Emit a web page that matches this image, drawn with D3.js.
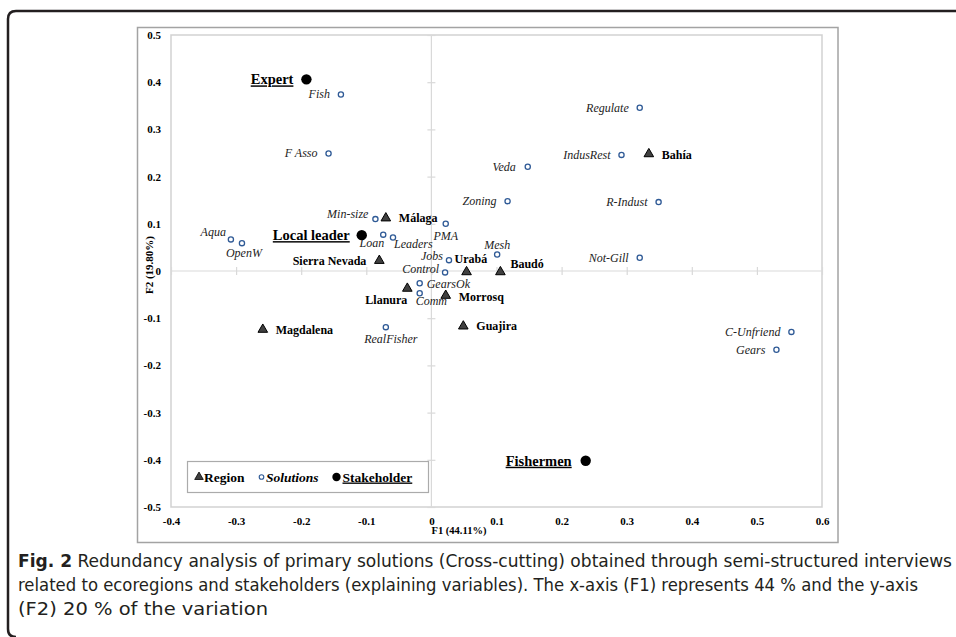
<!DOCTYPE html>
<html>
<head>
<meta charset="utf-8">
<script src="https://cdn.jsdelivr.net/npm/d3@7"></script>
<style>
  html, body { margin: 0; padding: 0; background: #fff; }
  svg { display: block; }
  svg text.serif { font-family: "Liberation Serif", "Times New Roman", "DejaVu Serif", serif; }
  .caption { font-family: "Liberation Sans Narrow", "DejaVu Sans Condensed", "Open Sans", sans-serif; font-stretch: condensed; fill: #231f20; }
</style>
</head>
<body>
<svg id="chart" width="956" height="637"></svg>
<script>
// Ecoregions (triangles): [name, F1, F2]
const regions = [
  ["Málaga", -0.070, 0.112],
  ["Sierra Nevada", -0.080, 0.022],
  ["Urabá", 0.054, -0.002],
  ["Baudó", 0.106, -0.002],
  ["Llanura", -0.037, -0.037],
  ["Morrosq", 0.022, -0.052],
  ["Magdalena", -0.259, -0.124],
  ["Guajira", 0.049, -0.117],
  ["Bahía", 0.334, 0.248]
];

// Primary solutions (open circles): [name, F1, F2]
const solutions = [
  ["Fish", -0.139, 0.374],
  ["F Asso", -0.158, 0.249],
  ["Regulate", 0.320, 0.346],
  ["IndusRest", 0.292, 0.246],
  ["Veda", 0.148, 0.221],
  ["Zoning", 0.117, 0.148],
  ["R-Indust", 0.349, 0.146],
  ["Min-size", -0.086, 0.110],
  ["PMA", 0.022, 0.100],
  ["Aqua", -0.308, 0.067],
  ["OpenW", -0.291, 0.059],
  ["Loan", -0.074, 0.077],
  ["Leaders", -0.059, 0.071],
  ["Jobs", 0.027, 0.023],
  ["Mesh", 0.101, 0.035],
  ["Not-Gill", 0.320, 0.028],
  ["Control", 0.021, -0.003],
  ["GearsOk", -0.018, -0.026],
  ["Comm", -0.018, -0.047],
  ["RealFisher", -0.070, -0.119],
  ["C-Unfriend", 0.553, -0.129],
  ["Gears", 0.530, -0.167]
];

// Stakeholders (filled circles): [name, F1, F2]
const stakeholders = [
  ["Expert", -0.192, 0.406],
  ["Local leader", -0.107, 0.076],
  ["Fishermen", 0.237, -0.402]
];

const xTicks = [-0.4, -0.3, -0.2, -0.1, 0, 0.1, 0.2, 0.3, 0.4, 0.5, 0.6];
const yTicks = [-0.5, -0.4, -0.3, -0.2, -0.1, 0, 0.1, 0.2, 0.3, 0.4, 0.5];
const xTitle = "F1 (44.11%)";
const yTitle = "F2 (19.80%)";
const legendItems = ["Region", "Solutions", "Stakeholder"];
const captionLines = [
  ["Fig. 2", " Redundancy analysis of primary solutions (Cross-cutting) obtained through semi-structured interviews"],
  ["", "related to ecoregions and stakeholders (explaining variables). The x-axis (F1) represents 44 % and the y-axis"],
  ["", "(F2) 20 % of the variation"]
];

// Label placement relative to each marker: [dx, dy(baseline), anchor]
const labelPlacement = {
  "Málaga": [13, 4, "start"], "Sierra Nevada": [-13, 4, "end"], "Urabá": [-12, -9, "start"],
  "Baudó": [10, -4, "start"], "Llanura": [0, 16, "end"], "Morrosq": [13, 5, "start"],
  "Magdalena": [13, 4, "start"], "Guajira": [13, 4, "start"], "Bahía": [13, 5, "start"],
  "Fish": [-11, 4, "end"], "F Asso": [-11, 4, "end"], "Regulate": [-11, 4, "end"],
  "IndusRest": [-11, 4, "end"], "Veda": [-12, 4, "end"], "Zoning": [-11, 4, "end"],
  "R-Indust": [-11, 4, "end"], "Min-size": [-7, -1, "end"], "PMA": [0, 16, "middle"],
  "Aqua": [-5, -3, "end"], "OpenW": [2, 14, "middle"], "Loan": [1, 12, "end"],
  "Leaders": [1, 11, "start"], "Jobs": [-6, 0, "end"], "Control": [-6, 1, "end"],
  "GearsOk": [7, 5, "start"], "Comm": [-4, 12, "start"], "Mesh": [0, -5, "middle"],
  "Not-Gill": [-11, 4, "end"], "RealFisher": [5, 16, "middle"], "C-Unfriend": [-11, 4, "end"],
  "Gears": [-11, 4, "end"],
  "Expert": [-13, 5, "end"], "Local leader": [-12, 5, "end"], "Fishermen": [-14, 5, "end"]
};

const svg = d3.select("#chart");
const plot = { left: 171, top: 35, right: 822, bottom: 507 };

const x = d3.scaleLinear().domain([-0.4, 0.6]).range([plot.left, plot.right]);
const y = d3.scaleLinear().domain([-0.5, 0.5]).range([plot.bottom, plot.top]);
const fmt = d => d === 0 ? "0" : d3.format(".1f")(d).replace("−", "-");

// Outer page frame (rounded on the left)
svg.append("path")
  .attr("d", "M 970 11 L 16 11 Q 8 11 8 19 L 8 629 Q 8 637 16 637")
  .attr("fill", "none").attr("stroke", "#231f20").attr("stroke-width", 2.5);

// Chart frame and plot area
svg.append("rect").attr("x", 137.5).attr("y", 27.5).attr("width", 700.5).attr("height", 515)
  .attr("fill", "#fff").attr("stroke", "#a3a3a3").attr("stroke-width", 1.5);
svg.append("rect").attr("x", plot.left).attr("y", plot.top)
  .attr("width", plot.right - plot.left).attr("height", plot.bottom - plot.top)
  .attr("fill", "#fff").attr("stroke", "#d2d2d2").attr("stroke-width", 1.5);

// Zero lines with cross ticks
const grid = "#d9d9d9";
svg.append("line").attr("x1", plot.left).attr("x2", plot.right).attr("y1", y(0)).attr("y2", y(0))
  .attr("stroke", grid).attr("stroke-width", 1.2);
svg.append("line").attr("x1", x(0)).attr("x2", x(0)).attr("y1", plot.top).attr("y2", plot.bottom)
  .attr("stroke", grid).attr("stroke-width", 1.2);

const xTickAxis = svg.append("g").attr("transform", `translate(0,${y(0) - 4})`)
  .call(d3.axisBottom(x).tickValues(xTicks).tickSize(8).tickFormat(""));
const yTickAxis = svg.append("g").attr("transform", `translate(${x(0) - 4},0)`)
  .call(d3.axisRight(y).tickValues(yTicks).tickSize(8).tickFormat(""));
[xTickAxis, yTickAxis].forEach(g => {
  g.select(".domain").remove();
  g.selectAll("line").attr("stroke", grid).attr("stroke-width", 1.2);
});

// Tick labels
const xLab = svg.append("g").attr("transform", `translate(0,${plot.bottom})`)
  .call(d3.axisBottom(x).tickValues(xTicks).tickSize(0).tickPadding(10).tickFormat(fmt));
const yLab = svg.append("g").attr("transform", `translate(${plot.left},0)`)
  .call(d3.axisLeft(y).tickValues(yTicks).tickSize(0).tickPadding(10).tickFormat(fmt));
[xLab, yLab].forEach(g => {
  g.attr("font-family", null);
  g.select(".domain").remove();
  g.selectAll("text").attr("class", "serif").attr("font-size", 11).attr("font-weight", "bold")
    .attr("fill", "#000");
});

// Axis titles
svg.append("text").attr("class", "serif").attr("x", 459).attr("y", 534)
  .attr("text-anchor", "middle").attr("font-size", 10.5).attr("font-weight", "bold").text(xTitle);
svg.append("text").attr("class", "serif").attr("transform", "translate(153,265) rotate(-90)")
  .attr("text-anchor", "middle").attr("font-size", 11).attr("font-weight", "bold").text(yTitle);

// Marker helpers
const triangle = d3.symbol().type(d3.symbolTriangle).size(40);
const solStroke = "#2f5a96";

function addLabel(name, px, py, cls) {
  const p = labelPlacement[name] || [8, 4, "start"];
  const t = svg.append("text").attr("class", "serif")
    .attr("x", px + p[0]).attr("y", py + p[1]).attr("text-anchor", p[2]).text(name);
  if (cls === "region") t.attr("font-size", 12).attr("font-weight", "bold");
  if (cls === "solution") t.attr("font-size", 12).style("font-style", "italic").attr("fill", "#222");
  if (cls === "stake") t.attr("font-size", 14.5).attr("font-weight", "bold")
    .style("text-decoration", "underline");
}

// Solutions
solutions.forEach(([name, f1, f2]) => {
  svg.append("circle").attr("cx", x(f1)).attr("cy", y(f2)).attr("r", 2.6)
    .attr("fill", "#fff").attr("stroke", solStroke).attr("stroke-width", 1.3);
  addLabel(name, x(f1), y(f2), "solution");
});

// Regions
regions.forEach(([name, f1, f2]) => {
  svg.append("path").attr("d", triangle).attr("transform", `translate(${x(f1)},${y(f2)})`)
    .attr("fill", "#404040").attr("stroke", "#000").attr("stroke-width", 1);
  addLabel(name, x(f1), y(f2), "region");
});

// Stakeholders
stakeholders.forEach(([name, f1, f2]) => {
  svg.append("circle").attr("cx", x(f1)).attr("cy", y(f2)).attr("r", 5.2).attr("fill", "#000");
  addLabel(name, x(f1), y(f2), "stake");
});

// Legend
const lg = svg.append("g");
lg.append("rect").attr("x", 187.5).attr("y", 461.5).attr("width", 241).attr("height", 31)
  .attr("fill", "#fff").attr("stroke", "#ababab").attr("stroke-width", 1.2);
const ly = 477;
lg.append("path").attr("d", d3.symbol().type(d3.symbolTriangle).size(32))
  .attr("transform", `translate(199,${ly})`).attr("fill", "#404040").attr("stroke", "#000").attr("stroke-width", 0.8);
lg.append("text").attr("class", "serif").attr("x", 204).attr("y", ly + 4.5).attr("font-size", 13.5)
  .attr("font-weight", "bold").text(legendItems[0]);
lg.append("circle").attr("cx", 261.5).attr("cy", ly).attr("r", 2.3).attr("fill", "#fff")
  .attr("stroke", solStroke).attr("stroke-width", 1.1);
lg.append("text").attr("class", "serif").attr("x", 266).attr("y", ly + 4.5).attr("font-size", 13.5)
  .attr("font-weight", "bold").style("font-style", "italic").text(legendItems[1]);
lg.append("circle").attr("cx", 336.5).attr("cy", ly).attr("r", 4.2).attr("fill", "#000");
lg.append("text").attr("class", "serif").attr("x", 342.5).attr("y", ly + 4.5).attr("font-size", 13.5)
  .attr("font-weight", "bold").style("text-decoration", "underline").text(legendItems[2]);

// Caption
const capBase = [567, 591, 615];
const capWidth = [934, 900, 250];
captionLines.forEach(([bold, rest], i) => {
  const t = svg.append("text").attr("class", "caption").attr("x", 18).attr("y", capBase[i])
    .attr("font-size", 18).attr("textLength", capWidth[i]).attr("lengthAdjust", "spacingAndGlyphs");
  if (bold) t.append("tspan").attr("font-weight", "bold").text(bold);
  t.append("tspan").text(rest);
});
</script>
</body>
</html>
